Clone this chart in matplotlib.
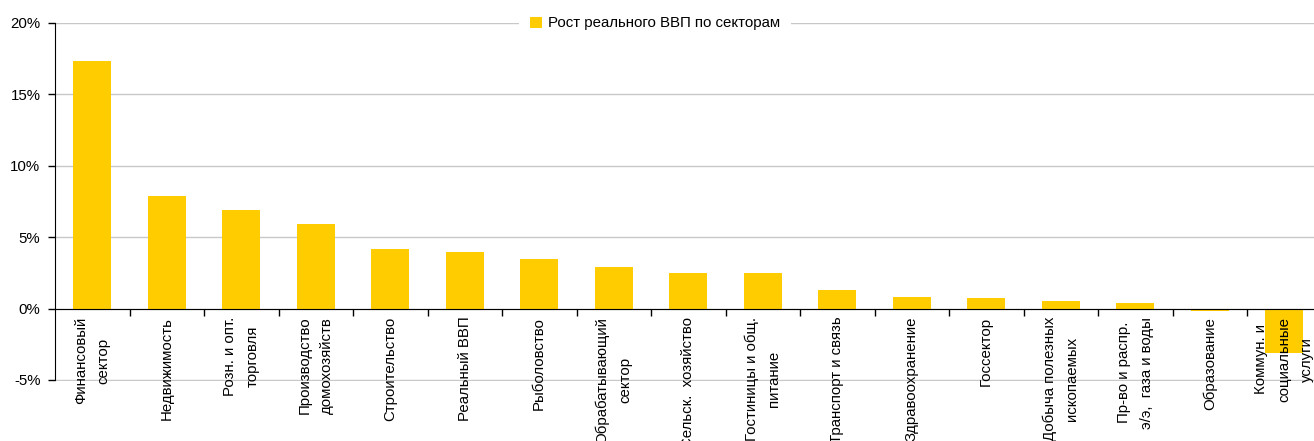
import matplotlib
matplotlib.use('Agg')
import matplotlib.pyplot as plt
from matplotlib.patches import Patch
from matplotlib.ticker import FixedLocator, FuncFormatter

# sectors and real GDP growth, %
sectors = ['Финансовый\nсектор', 'Недвижимость', 'Розн. и опт.\nторговля',
           'Производство\nдомохозяйств', 'Строительство', 'Реальный ВВП',
           'Рыболовство', 'Обрабатывающий\nсектор', 'Сельск.  хозяйство',
           'Гостиницы и общ.\nпитание', 'Транспорт и связь', 'Здравоохранение',
           'Госсектор', 'Добыча полезных\nископаемых', 'Пр-во и распр.\nэ/э,  газа и воды',
           'Образование', 'Коммун. и\nсоциальные\nуслуги']
growth = [17.3, 7.9, 6.9, 5.9, 4.2, 3.95, 3.45, 2.9, 2.5, 2.5,
          1.3, 0.8, 0.75, 0.5, 0.4, -0.17, -3.1]
y_ticks = [-5, 0, 5, 10, 15, 20]

plt.rcParams['font.family'] = ['Liberation Sans', 'DejaVu Sans']
plt.rcParams['font.size'] = 10.8

yellow = '#FFCC00'
grid_col = '#C8C8C8'

fig = plt.figure(figsize=(13.14, 4.41), dpi=100)
ax = fig.add_axes([55 / 1314, 1 - 381.1 / 441, 1266.5 / 1314, 358.3 / 441])

x = list(range(len(sectors)))
ax.bar(x, growth, width=0.51, color=yellow, zorder=2)

ax.set_xlim(-0.5, len(sectors) - 0.5)
ax.set_ylim(-5.08, 20)

# y axis
ax.set_yticks(y_ticks)
ax.yaxis.set_major_formatter(FuncFormatter(lambda v, p: f'{v:.0f}%'))
ax.tick_params(axis='y', direction='out', length=5, width=1, pad=5.5,
               labelsize=10.8, colors='black')
ax.grid(axis='y', color=grid_col, linewidth=1)

# x axis at zero, tick marks between categories, labels at centres (over the bars)
ax.xaxis.set_zorder(3)
ax.spines['bottom'].set_position(('data', 0))
ax.spines['bottom'].set_zorder(3)
ax.spines['top'].set_visible(False)
ax.spines['right'].set_visible(False)
ax.spines['left'].set_bounds(-5, 20)
ax.set_xticks(x)
ax.set_xticklabels(sectors, rotation=90, ha='center', va='top',
                   multialignment='center', linespacing=1.8)
ax.xaxis.set_minor_locator(FixedLocator([i + 0.5 for i in x]))
ax.tick_params(axis='x', which='major', length=0, pad=6, labelsize=10.8)
ax.tick_params(axis='x', which='minor', direction='out', length=5, width=1)

leg = ax.legend(handles=[Patch(facecolor=yellow, edgecolor='none',
                               label='Рост реального ВВП по секторам')],
                loc='center', bbox_to_anchor=(655 / 1314, 1 - 23.5 / 441),
                bbox_transform=fig.transFigure, frameon=True, fancybox=False,
                edgecolor='none', facecolor='white', framealpha=1,
                handlelength=0.8, handleheight=0.8, handletextpad=0.4,
                borderpad=0.2, borderaxespad=0, fontsize=10.8)
leg.get_frame().set_boxstyle('square', pad=0.5)

fig.savefig('out.png', dpi=100)
